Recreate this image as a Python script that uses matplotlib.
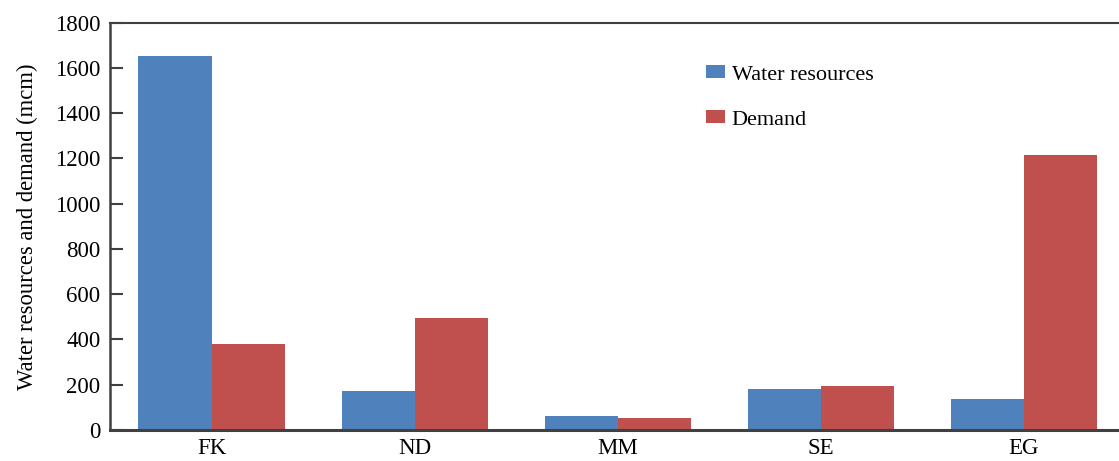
import matplotlib
matplotlib.use("Agg")
import matplotlib.pyplot as plt
import numpy as np

categories = ["FK", "ND", "MM", "SE", "EG"]
water_resources = [1653, 172, 60, 180, 137]
demand = [379, 493, 52, 196, 1214]
yticks = [0, 200, 400, 600, 800, 1000, 1200, 1400, 1600, 1800]

plt.rcParams['font.family'] = ['Liberation Serif', 'DejaVu Serif']

fig = plt.figure(figsize=(11.19, 4.61), dpi=100)
W, H = 1119, 461
x0, x1 = 110, 1125.5
y0, y1 = 430, 22.7
ax = fig.add_axes([x0 / W, 1 - y0 / H, (x1 - x0) / W, (y0 - y1) / H])

x = np.arange(len(categories))
bw = 0.36
ax.bar(x - bw / 2, water_resources, bw, color="#4F81BD", label="Water resources")
ax.bar(x + bw / 2, demand, bw, color="#C0504D", label="Demand")

ax.set_xlim(-0.5, 4.5)
ax.set_ylim(0, 1800)
ax.set_yticks(yticks)
ax.set_xticks(x)
ax.set_xticklabels(categories)
ax.tick_params(axis='x', length=0, labelsize=16.5, pad=6)
ax.tick_params(axis='y', direction='in', length=9, width=1.5, color='#404040', labelsize=16.5, pad=7)
ax.set_ylabel("Water resources and demand (mcm)", fontsize=16.3, labelpad=12)

for s in ['left', 'bottom', 'top']:
    ax.spines[s].set_color('#404040')
ax.spines['left'].set_linewidth(1.8)
ax.spines['bottom'].set_linewidth(2.2)
ax.spines['top'].set_linewidth(1.5)
ax.spines['right'].set_visible(False)

ax.legend(loc='upper left', bbox_to_anchor=((706 - x0) / (x1 - x0), (y0 - 65) / (y0 - y1)),
          frameon=False, fontsize=16, handlelength=0.85, handleheight=0.55,
          handletextpad=0.3, labelspacing=1.15, borderaxespad=0, borderpad=0)

fig.savefig("out.png", dpi=100)
